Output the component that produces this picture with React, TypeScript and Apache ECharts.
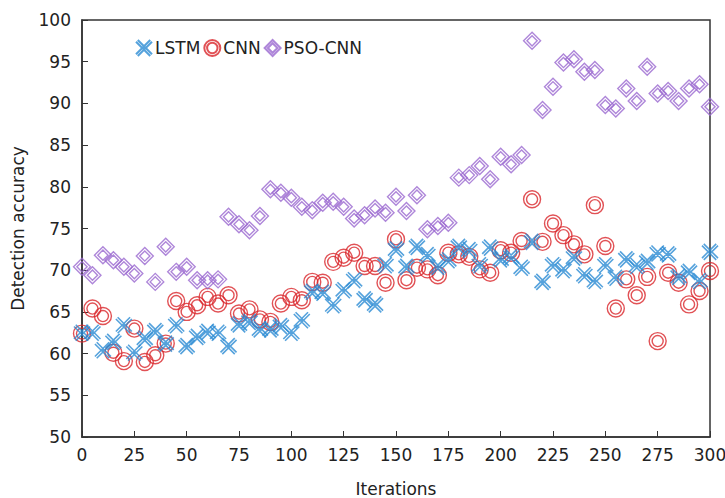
import React, { useEffect, useRef } from "react";
import * as echarts from "echarts";

const iterations = [0,5,10,15,20,25,30,35,40,45,50,55,60,65,70,75,80,85,90,95,100,105,110,115,120,125,130,135,140,145,150,155,160,165,170,175,180,185,190,195,200,205,210,215,220,225,230,235,240,245,250,255,260,265,270,275,280,285,290,295,300];

const lstm = [62.5,62.5,60.4,61.4,63.4,60.1,61.8,62.7,61.2,63.4,60.9,62.0,62.6,62.5,60.9,63.5,63.8,62.9,62.9,63.3,62.5,64.0,67.4,67.3,65.8,67.6,68.8,66.5,65.9,70.6,72.5,70.4,72.8,71.8,70.4,71.2,72.8,72.4,70.6,72.7,71.3,71.6,70.3,73.4,68.6,70.6,70.0,71.5,69.4,68.7,70.6,69.1,71.3,70.5,71.0,72.0,71.9,69.2,69.8,68.7,72.2];

const cnn = [62.4,65.4,64.5,60.1,59.1,63.0,59.0,59.8,61.2,66.3,65.0,65.8,66.8,66.0,67.0,64.8,65.3,64.1,63.8,66.0,66.8,66.4,68.6,68.5,71.0,71.5,72.1,70.5,70.5,68.5,73.7,68.8,70.3,70.1,69.4,72.1,71.9,71.6,70.1,69.7,72.4,72.1,73.5,78.5,73.4,75.6,74.2,73.1,71.9,77.8,72.9,65.4,68.9,67.0,69.2,61.5,69.7,68.5,65.9,67.5,69.9];

const psoCnn = [70.4,69.4,71.8,71.2,70.4,69.6,71.7,68.6,72.8,69.8,70.4,68.8,68.8,68.9,76.4,75.5,74.8,76.5,79.7,79.3,78.7,77.6,77.2,78.1,78.2,77.6,76.2,76.6,77.4,76.9,78.8,77.1,79.0,74.9,75.3,75.7,81.1,81.4,82.5,80.9,83.6,82.7,83.8,97.5,89.2,92.0,94.9,95.3,93.8,94.0,89.8,89.4,91.8,90.3,94.4,91.2,91.5,90.3,91.8,92.3,89.6];

const seriesNames = ["LSTM", "CNN", "PSO-CNN"];
const xTicks = [0, 25, 50, 75, 100, 125, 150, 175, 200, 225, 250, 275, 300];

const FONT = "DejaVu Sans";

const starPath =
  "path://M-9,-7L7,9M-7,-9L9,7M-9,7L7,-9M-7,9L9,-7M0,-1L0,1";
const ringPath =
  "path://M0,-10A10,10 0 1,1 0,10A10,10 0 1,1 0,-10ZM0,-6.5A6.5,6.5 0 1,1 0,6.5A6.5,6.5 0 1,1 0,-6.5Z";
const diamondPath =
  "path://M0,-10L10,0L0,10L-10,0ZM0,-6L6,0L0,6L-6,0Z";

function pairs(ys: number[]) {
  return iterations.map((x, i) => [x, ys[i]]);
}

export default function App() {
  const ref = useRef<HTMLDivElement>(null);
  useEffect(() => {
    if (!ref.current) return;
    const chart = echarts.init(ref.current, undefined, { renderer: "svg" });
    chart.setOption({
      animation: false,
      backgroundColor: "#ffffff",
      textStyle: { fontFamily: FONT },
      grid: {
        left: 82,
        right: 15,
        top: 20,
        bottom: 61,
        show: true,
        borderColor: "#333",
        borderWidth: 1.5,
        containLabel: false,
        outerBoundsMode: "none",
      },
      legend: {
        data: seriesNames,
        left: 130,
        top: 34,
        itemGap: 3,
        itemWidth: 18,
        itemHeight: 16,
        textStyle: { fontFamily: FONT, fontSize: 17, color: "#222", padding: [0, 0, 0, -3] },
      },
      xAxis: {
        type: "value",
        min: 0,
        max: 300,
        interval: 25,
        name: "Iterations",
        nameLocation: "middle",
        nameGap: 43,
        nameTextStyle: { fontFamily: FONT, fontSize: 17, color: "#222" },
        axisLine: { show: true, lineStyle: { color: "#333", width: 1.5 } },
        axisTick: { show: true, inside: true, length: 6, lineStyle: { color: "#333" } },
        axisLabel: {
          fontFamily: FONT,
          fontSize: 17,
          color: "#222",
          margin: 9,
          customValues: xTicks,
        },
        splitLine: { show: false },
      },
      yAxis: {
        type: "value",
        min: 50,
        max: 100,
        interval: 5,
        name: "Detection accuracy",
        nameLocation: "middle",
        nameGap: 56,
        nameTextStyle: { fontFamily: FONT, fontSize: 17, color: "#222" },
        axisLine: { show: true, lineStyle: { color: "#333", width: 1.5 } },
        axisTick: { show: true, inside: true, length: 6, lineStyle: { color: "#333" } },
        axisLabel: { fontFamily: FONT, fontSize: 17, color: "#222", margin: 11 },
        splitLine: { show: false },
      },
      series: [
        {
          name: "CNN",
          type: "scatter",
          data: pairs(cnn),
          symbol: ringPath,
          symbolSize: 17,
          z: 2,
          itemStyle: { color: "rgba(0,0,0,0)", borderColor: "#d9262b", borderWidth: 1.4 },
        },
        {
          name: "LSTM",
          type: "scatter",
          data: pairs(lstm),
          symbol: starPath,
          symbolSize: 16,
          z: 3,
          itemStyle: { color: "rgba(0,0,0,0)", borderColor: "#2b8bd3", borderWidth: 1.6 },
        },
        {
          name: "PSO-CNN",
          type: "scatter",
          data: pairs(psoCnn),
          symbol: diamondPath,
          symbolSize: 17,
          z: 4,
          itemStyle: { color: "rgba(0,0,0,0)", borderColor: "#9a68cf", borderWidth: 1.4 },
        },
      ],
    });
    return () => chart.dispose();
  }, []);
  return <div ref={ref} style={{ width: 725, height: 498, position: "absolute", left: 0, top: 0 }} />;
}
